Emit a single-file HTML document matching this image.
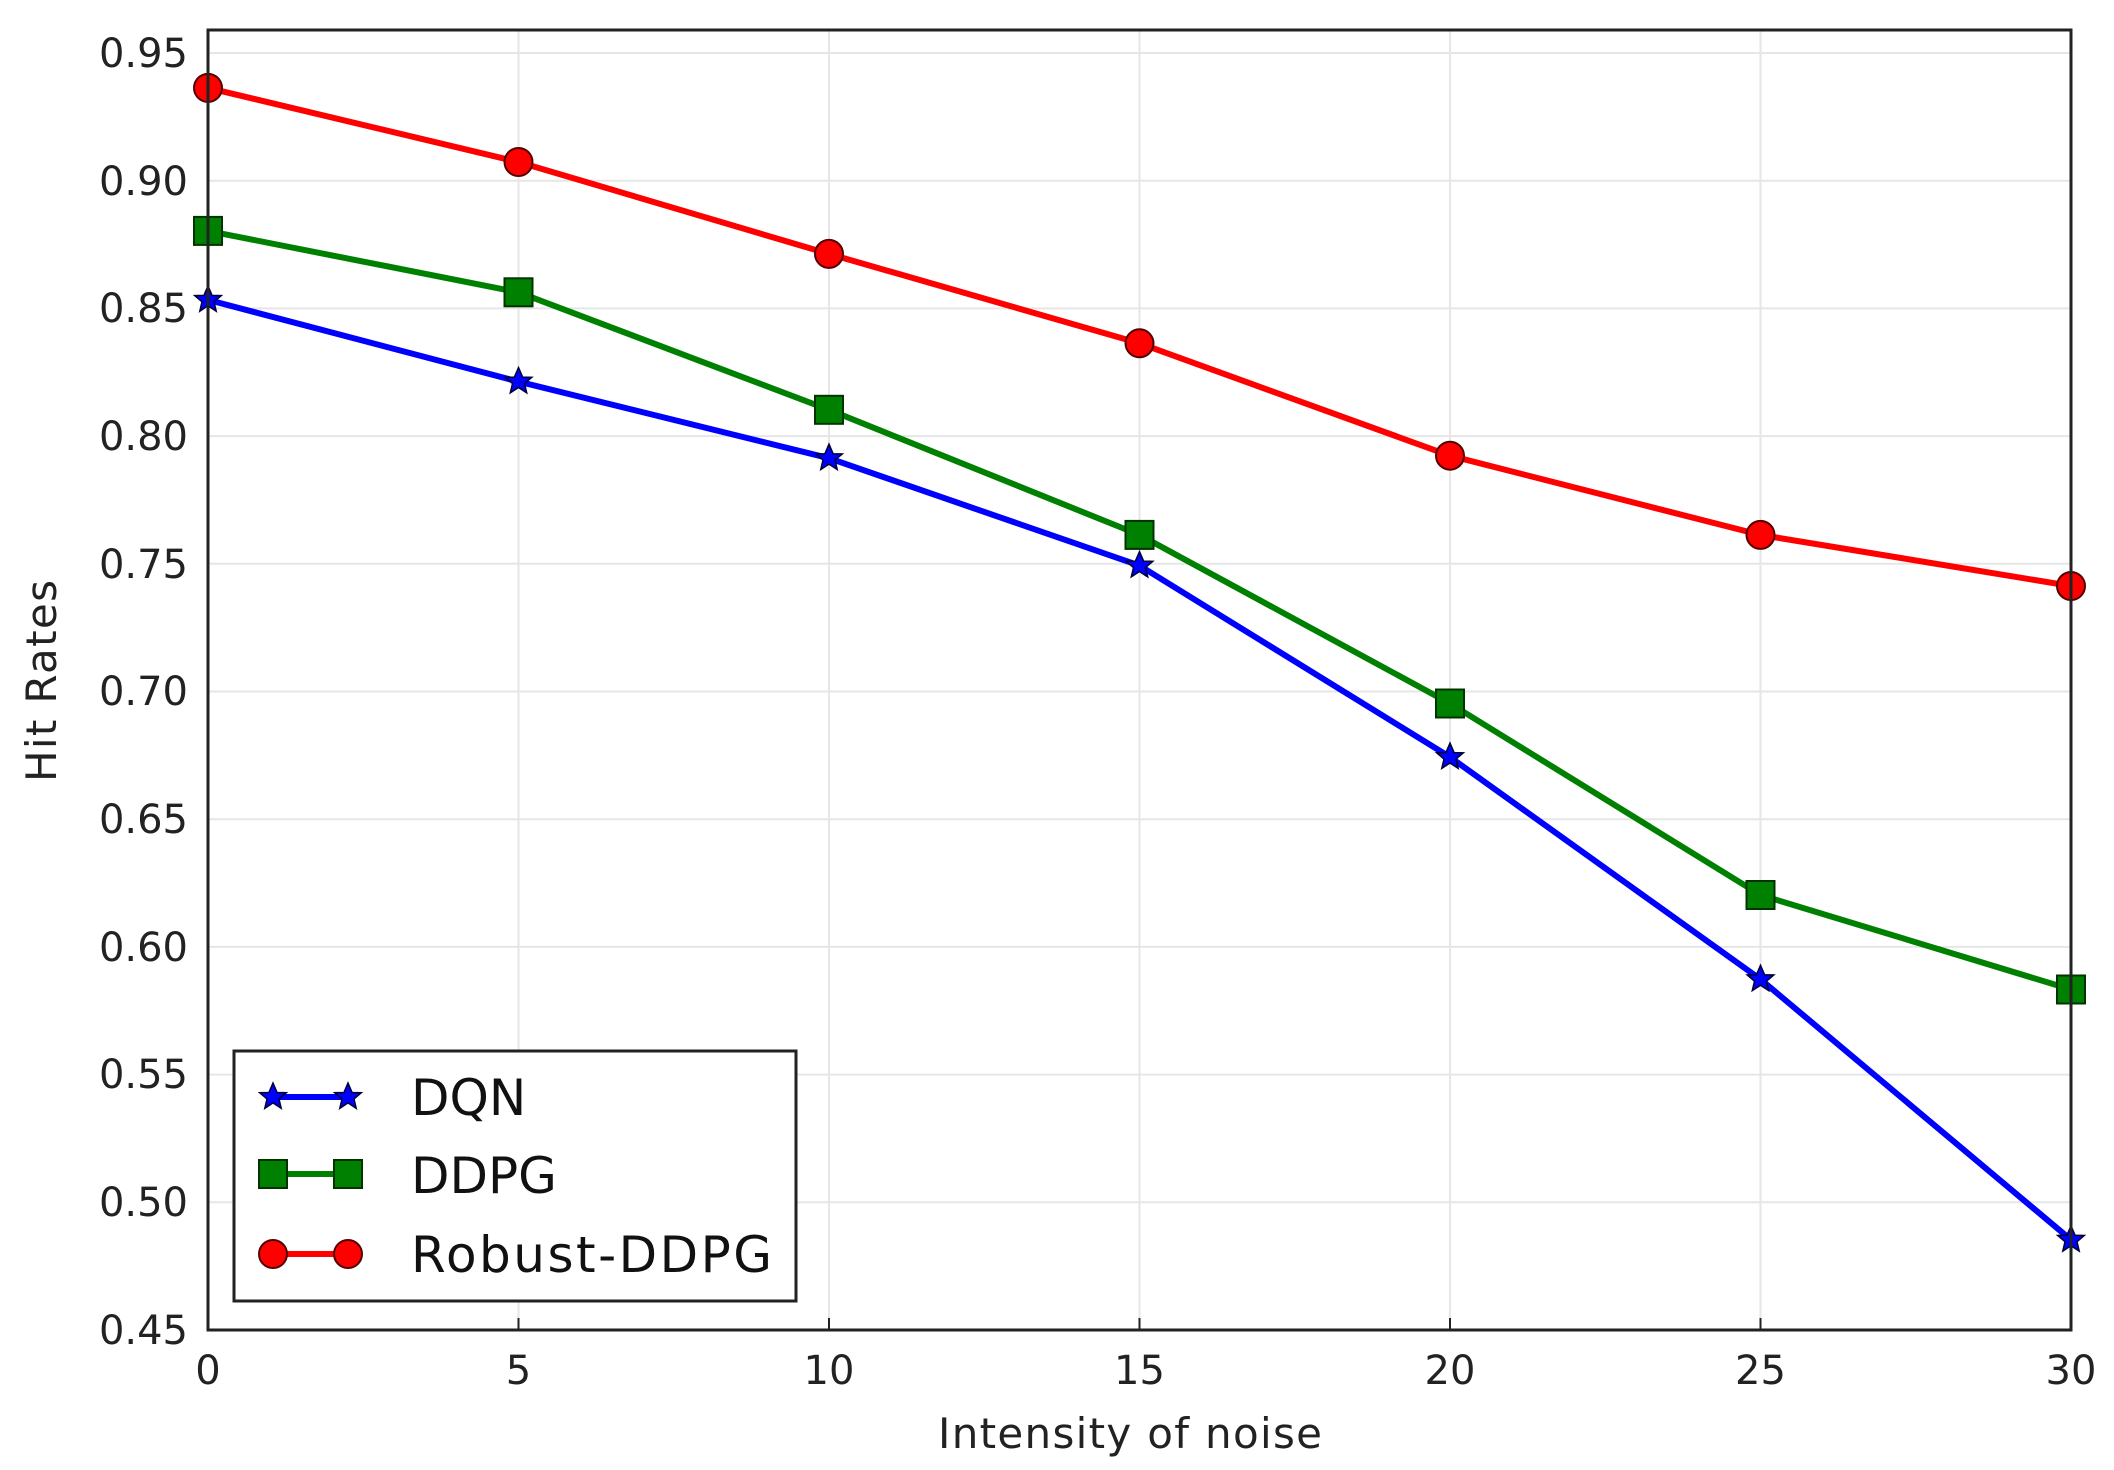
<!DOCTYPE html>
<html><head><meta charset="utf-8"><style>body{margin:0;background:#fff}svg{display:block}</style></head><body>
<svg width="2114" height="1470" viewBox="0 0 2114 1470" xmlns="http://www.w3.org/2000/svg" font-family="DejaVu Sans, Liberation Sans, sans-serif">
<defs>
<path id="star" d="M0,-14 L4.1,-4.5 L13.3,-4.3 L6,1.9 L8.2,11.3 L0,5.9 L-8.2,11.3 L-6,1.9 L-13.3,-4.3 L-4.1,-4.5 Z"/>
</defs>
<g stroke="#e6e6e6" stroke-width="2">
<line x1="518.5" y1="30" x2="518.5" y2="1330"/><line x1="829" y1="30" x2="829" y2="1330"/><line x1="1139.5" y1="30" x2="1139.5" y2="1330"/><line x1="1450" y1="30" x2="1450" y2="1330"/><line x1="1760.5" y1="30" x2="1760.5" y2="1330"/>
<line x1="208" y1="53" x2="2071" y2="53"/><line x1="208" y1="180.7" x2="2071" y2="180.7"/><line x1="208" y1="308.4" x2="2071" y2="308.4"/><line x1="208" y1="436.1" x2="2071" y2="436.1"/><line x1="208" y1="563.8" x2="2071" y2="563.8"/><line x1="208" y1="691.5" x2="2071" y2="691.5"/><line x1="208" y1="819.2" x2="2071" y2="819.2"/><line x1="208" y1="946.9" x2="2071" y2="946.9"/><line x1="208" y1="1074.6" x2="2071" y2="1074.6"/><line x1="208" y1="1202.3" x2="2071" y2="1202.3"/>
</g>
<g fill="#222" font-size="40" text-anchor="end">
<text x="188" y="67">0.95</text><text x="188" y="195">0.90</text><text x="188" y="322">0.85</text><text x="188" y="450">0.80</text><text x="188" y="578">0.75</text><text x="188" y="705">0.70</text><text x="188" y="833">0.65</text><text x="188" y="961">0.60</text><text x="188" y="1088">0.55</text><text x="188" y="1216">0.50</text><text x="188" y="1344">0.45</text>
</g>
<g fill="#222" font-size="40" text-anchor="middle">
<text x="208" y="1384">0</text><text x="518.5" y="1384">5</text><text x="829" y="1384">10</text><text x="1139.5" y="1384">15</text><text x="1450" y="1384">20</text><text x="1760.5" y="1384">25</text><text x="2071" y="1384">30</text>
<text x="1130" y="1448" font-size="42" textLength="384">Intensity of noise</text>
<text transform="translate(56,681) rotate(-90)" font-size="42" textLength="202">Hit Rates</text>
</g>
<g transform="translate(0,-11)">
<g fill="none" stroke-width="6" stroke-linejoin="round">
<polyline stroke="#0000ff" points="208,310.9 518.5,392.6 829,469.2 1139.5,576.6 1450,768.1 1760.5,990.3 2071,1250.8"/>
<polyline stroke="#008000" points="208,241.9 518.5,303.3 829,420.8 1139.5,545.9 1450,714.5 1760.5,906.0 2071,1000.5"/>
<polyline stroke="#ff0000" points="208,98.9 518.5,173.0 829,264.9 1139.5,354.3 1450,466.7 1760.5,545.9 2071,597"/>
</g>
<g fill="#0000ff" stroke="#000033" stroke-width="1.5">
<use href="#star" x="208" y="310.9"/><use href="#star" x="518.5" y="392.6"/><use href="#star" x="829" y="469.2"/><use href="#star" x="1139.5" y="576.6"/><use href="#star" x="1450" y="768.1"/><use href="#star" x="1760.5" y="990.3"/><use href="#star" x="2071" y="1250.8"/>
</g>
<g fill="#008000" stroke="#003300" stroke-width="2">
<rect x="194" y="227.9" width="28" height="28"/><rect x="504.5" y="289.3" width="28" height="28"/><rect x="815" y="406.8" width="28" height="28"/><rect x="1125.5" y="531.9" width="28" height="28"/><rect x="1436" y="700.5" width="28" height="28"/><rect x="1746.5" y="892" width="28" height="28"/><rect x="2057" y="986.5" width="28" height="28"/>
</g>
<g fill="#ff0000" stroke="#550000" stroke-width="2">
<circle cx="208" cy="98.9" r="14"/><circle cx="518.5" cy="173" r="14"/><circle cx="829" cy="264.9" r="14"/><circle cx="1139.5" cy="354.3" r="14"/><circle cx="1450" cy="466.7" r="14"/><circle cx="1760.5" cy="545.9" r="14"/><circle cx="2071" cy="597" r="14"/>
</g>
</g>
<rect x="208" y="30" width="1863" height="1300" fill="none" stroke="#222" stroke-width="3"/>
<g stroke="#222" stroke-width="2">
<line x1="518.5" y1="1330" x2="518.5" y2="1318"/><line x1="829" y1="1330" x2="829" y2="1318"/><line x1="1139.5" y1="1330" x2="1139.5" y2="1318"/><line x1="1450" y1="1330" x2="1450" y2="1318"/><line x1="1760.5" y1="1330" x2="1760.5" y2="1318"/>
</g>
<rect x="234" y="1051" width="562" height="250" fill="#fff" stroke="#222" stroke-width="3"/>
<line x1="273" y1="1097" x2="348" y2="1097" stroke="#0000ff" stroke-width="6"/>
<use href="#star" x="273" y="1097" fill="#0000ff" stroke="#000033" stroke-width="1.5"/><use href="#star" x="348" y="1097" fill="#0000ff" stroke="#000033" stroke-width="1.5"/>
<line x1="273" y1="1174" x2="348" y2="1174" stroke="#008000" stroke-width="6"/>
<rect x="259" y="1160" width="28" height="28" fill="#008000" stroke="#003300" stroke-width="2"/><rect x="334" y="1160" width="28" height="28" fill="#008000" stroke="#003300" stroke-width="2"/>
<line x1="273" y1="1254" x2="348" y2="1254" stroke="#ff0000" stroke-width="6"/>
<circle cx="273" cy="1254" r="14" fill="#ff0000" stroke="#550000" stroke-width="2"/><circle cx="348" cy="1254" r="14" fill="#ff0000" stroke="#550000" stroke-width="2"/>
<g fill="#111" font-size="50">
<text x="411" y="1115">DQN</text>
<text x="411" y="1193">DDPG</text>
<text x="411" y="1272" textLength="361">Robust-DDPG</text>
</g>
</svg>
</body></html>
